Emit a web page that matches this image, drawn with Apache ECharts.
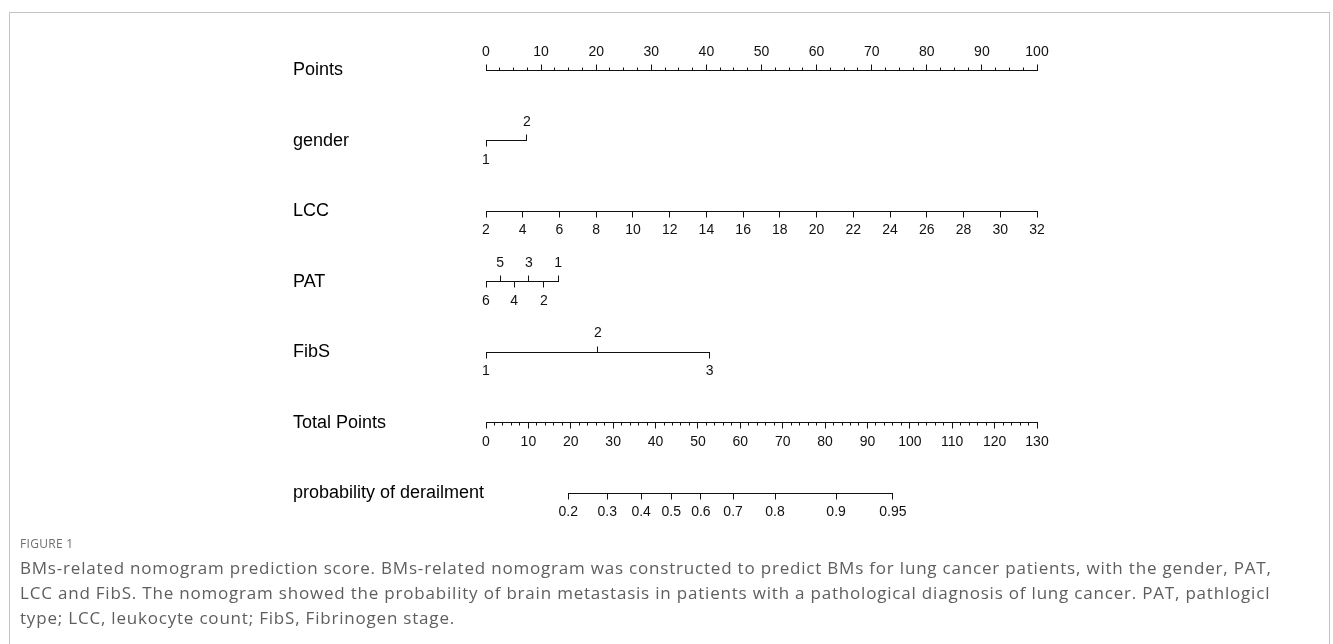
<!DOCTYPE html>
<html>
<head>
<meta charset="utf-8">
<script src="https://cdn.jsdelivr.net/npm/echarts@6/dist/echarts.min.js"></script>
<style>
  html, body { margin:0; padding:0; background:#fff; }
  #wrap { position:relative; width:1333px; height:644px; overflow:hidden; }
  #frame { position:absolute; left:9px; top:12px; width:1321px; height:700px;
           border:1px solid #c4c4c4; border-bottom:none; box-sizing:border-box; }
  #chart { position:absolute; left:0; top:0; width:1333px; height:644px; }
  #figlabel { position:absolute; left:20px; top:536px; font-family:"Open Sans", sans-serif;
              font-size:12px; line-height:16px; color:#6f6f6f; letter-spacing:0.3px; }
  #caption { position:absolute; left:20px; top:555px; width:1300px; font-family:"Open Sans", sans-serif;
             font-size:17px; line-height:25px; color:#5e5e5e; white-space:nowrap; letter-spacing:0.8px; }
</style>
</head>
<body>
<div id="wrap">
  <div id="frame"></div>
  <div id="chart"></div>
  <div id="figlabel">FIGURE 1</div>
  <div id="caption">BMs-related nomogram prediction score. BMs-related nomogram was constructed to predict BMs for lung cancer patients, with the gender, PAT,<br>LCC and FibS. The nomogram showed the probability of brain metastasis in patients with a pathological diagnosis of lung cancer. PAT, pathlogicl<br>type; LCC, leukocyte count; FibS, Fibrinogen stage.</div>
</div>
<script>
// ---------------- data ----------------
const rowNames = ['Points', 'gender', 'LCC', 'PAT', 'FibS', 'Total Points', 'probability of derailment'];

const pointsTickLabels = [0, 10, 20, 30, 40, 50, 60, 70, 80, 90, 100];
const pointsMinorStep = 2.5;

const genderLevels = ['1', '2'];
const genderPoints = [0, 7.4];

const lccTickLabels = [2, 4, 6, 8, 10, 12, 14, 16, 18, 20, 22, 24, 26, 28, 30, 32];
const lccPointsAtEnds = [0, 100];   // points for LCC = 2 and LCC = 32

const patLevels = ['6', '5', '4', '3', '2', '1'];
const patPoints = [0, 2.55, 5.1, 7.8, 10.5, 13.1];

const fibsLevels = ['1', '2', '3'];
const fibsPoints = [0, 20.3, 40.6];

const totalTickLabels = [0, 10, 20, 30, 40, 50, 60, 70, 80, 90, 100, 110, 120, 130];
const totalMinorStep = 2;

const probLabels = ['0.2', '0.3', '0.4', '0.5', '0.6', '0.7', '0.8', '0.9', '0.95'];
const probTotalPoints = [19.4, 28.6, 36.6, 43.7, 50.7, 58.3, 68.2, 82.6, 96.0];

// ---------------- styling ----------------
const INK = '#111';
const TICK_FONT = '14px "Liberation Sans", Arial, sans-serif';
const MAJOR = 6, MINOR = 3;

function crisp(v) { return Math.round(v - 0.5) + 0.5; }

// tick: {v, label, side (1 = up, -1 = down), len, off}
function rowSeries(row, axisIdx, ticks, lo, hi) {
  return {
    type: 'custom',
    xAxisIndex: axisIdx,
    yAxisIndex: 0,
    silent: true,
    clip: false,
    animation: false,
    data: ticks.map(t => [t.v, row]),
    renderItem: function (params, api) {
      const t = ticks[params.dataIndex];
      const p = api.coord([api.value(0), row]);
      const x = crisp(p[0]), y = crisp(p[1]);
      const children = [];
      if (params.dataIndex === 0) {
        const a = api.coord([lo, row]), b = api.coord([hi, row]);
        children.push({ type: 'line', shape: { x1: crisp(a[0]) - 0.5, y1: y, x2: crisp(b[0]) + 0.5, y2: y },
                        style: { stroke: INK, lineWidth: 1 } });
      }
      children.push({ type: 'line', shape: { x1: x, y1: y, x2: x, y2: y - t.side * t.len },
                      style: { stroke: INK, lineWidth: 1 } });
      if (t.label !== '') {
        children.push({ type: 'text', style: { text: t.label, x: p[0], y: p[1] - t.side * t.off,
                        align: 'center', verticalAlign: 'middle', font: TICK_FONT, fill: INK } });
      }
      return { type: 'group', children: children };
    }
  };
}

// Points row (labels above)
const pointsTicks = [];
for (let v = 0; v <= 100 + 1e-9; v += pointsMinorStep) {
  const isMajor = pointsTickLabels.indexOf(v) >= 0;
  pointsTicks.push({ v: v, label: isMajor ? String(v) : '', side: 1, len: isMajor ? MAJOR : MINOR, off: 18 });
}

// categorical rows: alternate below / above
function catTicks(levels, pts) {
  return levels.map((l, i) => ({ v: pts[i], label: l, side: i % 2 === 0 ? -1 : 1, len: MAJOR, off: 19 }));
}
const genderTicks = catTicks(genderLevels, genderPoints);
const patTicks = catTicks(patLevels, patPoints);
const fibsTicks = catTicks(fibsLevels, fibsPoints);

// LCC (continuous, labels below)
const lccLo = lccTickLabels[0], lccHi = lccTickLabels[lccTickLabels.length - 1];
const lccTicks = lccTickLabels.map(v => ({
  v: lccPointsAtEnds[0] + (v - lccLo) / (lccHi - lccLo) * (lccPointsAtEnds[1] - lccPointsAtEnds[0]),
  label: String(v), side: -1, len: MAJOR, off: 19 }));

// Total points
const totalTicks = [];
for (let v = 0; v <= 130 + 1e-9; v += totalMinorStep) {
  const isMajor = totalTickLabels.indexOf(v) >= 0;
  totalTicks.push({ v: v, label: isMajor ? String(v) : '', side: -1, len: isMajor ? MAJOR : MINOR, off: 19 });
}
totalTickLabels.forEach(v => { if (!totalTicks.some(t => Math.abs(t.v - v) < 1e-9)) totalTicks.push({ v: v, label: String(v), side: -1, len: MAJOR, off: 19 }); });

// probability
const probTicks = probLabels.map((l, i) => ({ v: probTotalPoints[i], label: l, side: -1, len: MAJOR, off: 19 }));

function ext(ticks) { const vs = ticks.map(t => t.v); return [Math.min.apply(null, vs), Math.max.apply(null, vs)]; }

const chart = echarts.init(document.getElementById('chart'), null, { renderer: 'canvas' });
const option = {
  animation: false,
  grid: { left: 486, right: 296, top: 35, bottom: 115.5, containLabel: false },
  xAxis: [
    { type: 'value', min: 0, max: 100, show: false },
    { type: 'value', min: 0, max: 130, show: false }
  ],
  yAxis: {
    type: 'category', inverse: true, data: rowNames,
    axisLine: { show: false }, axisTick: { show: false }, splitLine: { show: false },
    axisLabel: { align: 'left', margin: 193, fontSize: 18, color: '#000',
                 fontFamily: '"Liberation Sans", Arial, sans-serif' }
  },
  series: [
    rowSeries(0, 0, pointsTicks, ...ext(pointsTicks)),
    rowSeries(1, 0, genderTicks, ...ext(genderTicks)),
    rowSeries(2, 0, lccTicks, ...ext(lccTicks)),
    rowSeries(3, 0, patTicks, ...ext(patTicks)),
    rowSeries(4, 0, fibsTicks, ...ext(fibsTicks)),
    rowSeries(5, 1, totalTicks, ...ext(totalTicks)),
    rowSeries(6, 1, probTicks, ...ext(probTicks))
  ]
};
chart.setOption(option);
</script>
</body>
</html>
